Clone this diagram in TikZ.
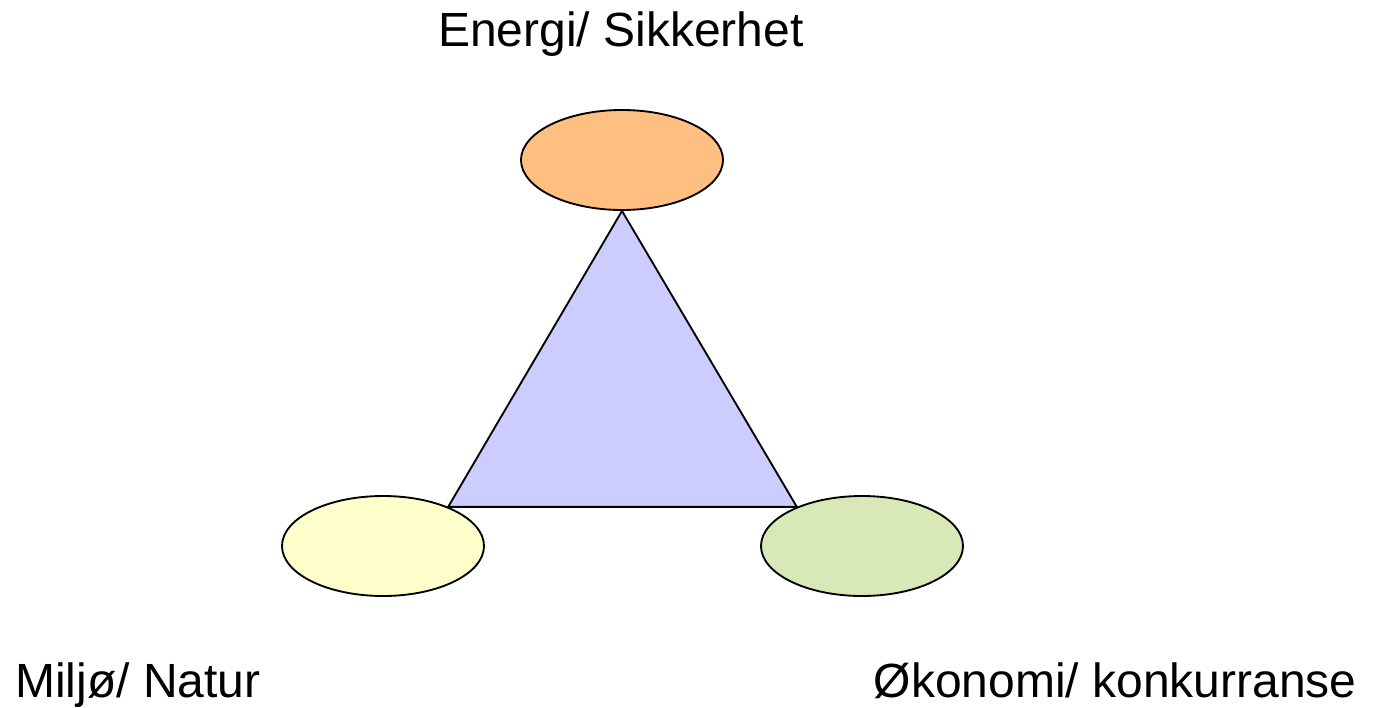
\documentclass[tikz,border=0pt]{standalone}
\usepackage{fontspec}
\setmainfont{Liberation Sans}
\usetikzlibrary{shapes.geometric}

\definecolor{energycol}{HTML}{FFBF80}
\definecolor{naturecol}{HTML}{FFFFCC}
\definecolor{econcol}{HTML}{D8E8B6}
\definecolor{trianglecol}{HTML}{CCCCFF}

\tikzset{
  pillar/.style={ellipse, draw=black, line width=1.4pt, minimum width=151.5pt, minimum height=75pt, inner sep=0pt},
  caption/.style={font=\fontsize{36}{40}\selectfont, inner sep=0pt}
}

\begin{document}
\begin{tikzpicture}[x=0.75pt, y=-0.75pt]
\useasboundingbox (0,0) rectangle (1378,707);
\coordinate (topc) at (622,160);
\coordinate (leftc) at (383,546);
\coordinate (rightc) at (862,546);
% triangle under the ellipses
\path (topc) node[pillar, draw=none] (tmptop) {}
      (leftc) node[pillar, draw=none] (tmpleft) {}
      (rightc) node[pillar, draw=none] (tmpright) {};
\filldraw[fill=trianglecol, draw=black, line width=1.4pt, line join=miter]
  (tmptop.south) -- (tmpleft.31) -- (tmpright.149) -- cycle;
\node[pillar, fill=energycol] (energi) at (topc) {};
\node[pillar, fill=naturecol] (miljo) at (leftc) {};
\node[pillar, fill=econcol] (okonomi) at (rightc) {};
% labels
\node[caption, anchor=base] (energilbl) at (621,46) {Energi/ Sikkerhet};
\node[caption, anchor=base west] (miljolbl) at (15,697) {Miljø/ Natur};
\node[caption, anchor=base east] (okonomilbl) at (1357,697) {Økonomi/ konkurranse};
\end{tikzpicture}
\end{document}
